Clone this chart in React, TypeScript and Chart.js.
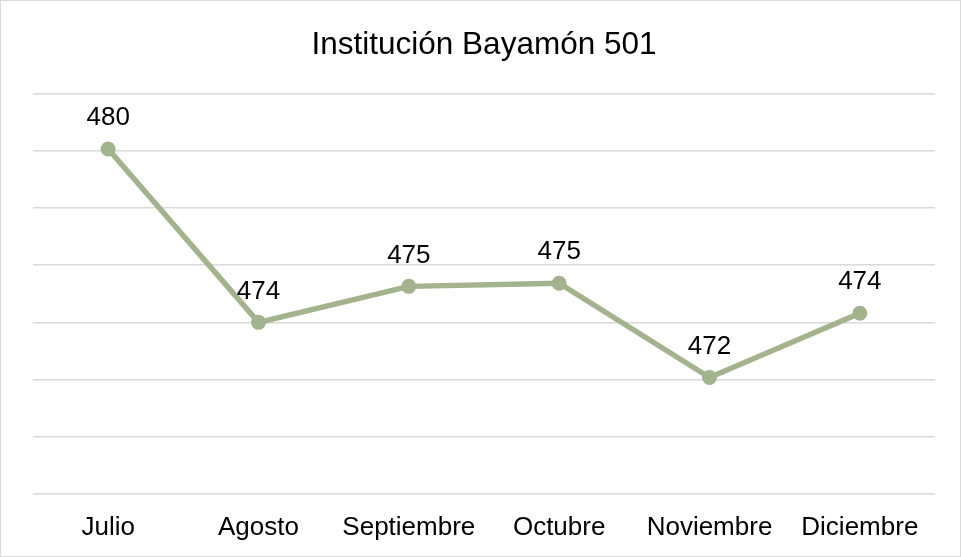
import React, { useEffect, useRef } from "react";
import { Chart, registerables } from "chart.js";

Chart.register(...registerables);

const TITLE = "Institución Bayamón 501";
const MONTHS = ["Julio", "Agosto", "Septiembre", "Octubre", "Noviembre", "Diciembre"];
const VALUES = [480.07, 474.0, 475.26, 475.37, 472.07, 474.32];
const Y_MIN = 468;
const Y_MAX = 482;
const Y_STEP = 2;

const LINE_COLOR = "#a3b38d";
const FONT = "'Liberation Sans', Arial, sans-serif";

const dataLabels = {
  id: "dataLabels",
  afterDatasetsDraw(chart: any) {
    const ctx = chart.ctx;
    const meta = chart.getDatasetMeta(0);
    ctx.save();
    ctx.font = `26px ${FONT}`;
    ctx.fillStyle = "#000000";
    ctx.textAlign = "center";
    ctx.textBaseline = "middle";
    meta.data.forEach((pt: any, i: number) => {
      const v = chart.data.datasets[0].data[i] as number;
      ctx.fillText(String(Math.round(v)), pt.x, pt.y - 31);
    });
    ctx.restore();
  },
};

export default function App() {
  const ref = useRef<HTMLCanvasElement | null>(null);

  useEffect(() => {
    if (!ref.current) return;
    const chart = new Chart(ref.current, {
      type: "line",
      data: {
        labels: MONTHS,
        datasets: [
          {
            data: VALUES,
            borderColor: LINE_COLOR,
            backgroundColor: LINE_COLOR,
            borderWidth: 5.5,
            pointRadius: 7.5,
            pointBorderWidth: 0,
            pointBackgroundColor: LINE_COLOR,
            tension: 0,
          },
        ],
      },
      options: {
        animation: false,
        responsive: true,
        maintainAspectRatio: false,
        layout: { padding: { left: 32, right: 25, top: 0, bottom: -5 } },
        plugins: {
          legend: { display: false },
          tooltip: { enabled: false },
          title: {
            display: true,
            text: TITLE,
            color: "#000000",
            font: { family: FONT, size: 31.5, weight: "normal" },
            padding: { top: 25, bottom: 30 },
          },
        },
        scales: {
          x: {
            offset: true,
            grid: { display: false, drawTicks: false },
            border: { display: false },
            ticks: {
              color: "#000000",
              font: { family: FONT, size: 26 },
              padding: 18,
              maxRotation: 0,
              autoSkip: false,
            },
          },
          y: {
            min: Y_MIN,
            max: Y_MAX,
            grid: { color: "#d9d9d9", lineWidth: 1.5, drawTicks: false },
            border: { display: false },
            ticks: { display: false, stepSize: Y_STEP },
          },
        },
      },
      plugins: [dataLabels],
    });
    return () => chart.destroy();
  }, []);

  return (
    <div
      style={{
        position: "fixed",
        left: 0,
        top: 0,
        width: 961,
        height: 557,
        boxSizing: "border-box",
        border: "1px solid #d9d9d9",
        background: "#ffffff",
      }}
    >
      <canvas ref={ref} />
    </div>
  );
}
